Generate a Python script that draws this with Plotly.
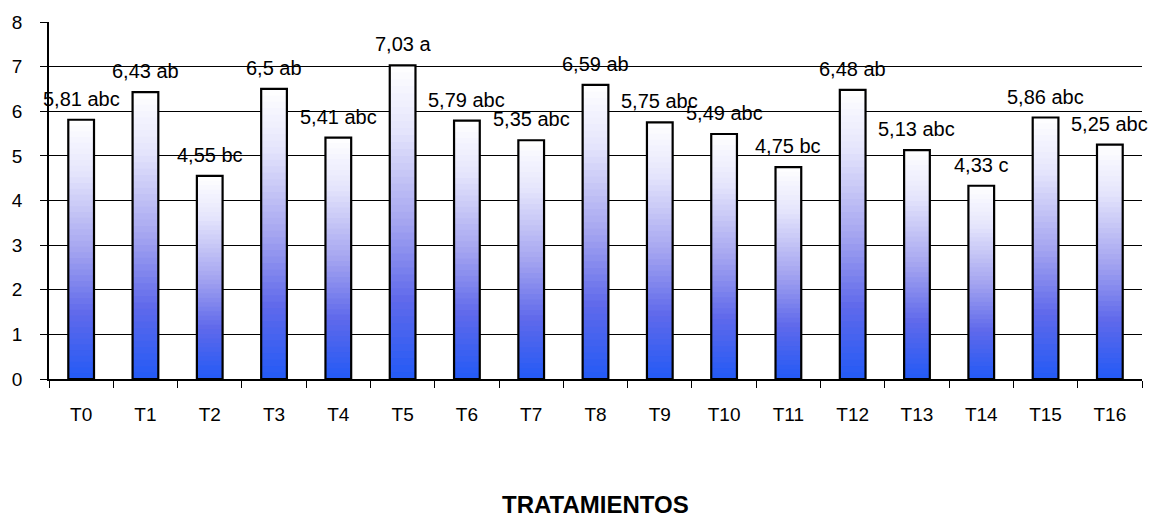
import plotly.graph_objects as go
from plotly.colors import find_intermediate_color

categories = ["T0", "T1", "T2", "T3", "T4", "T5", "T6", "T7", "T8",
              "T9", "T10", "T11", "T12", "T13", "T14", "T15", "T16"]
values = [5.81, 6.43, 4.55, 6.50, 5.41, 7.03, 5.79, 5.35, 6.59,
          5.75, 5.49, 4.75, 6.48, 5.13, 4.33, 5.86, 5.25]
groups = ["abc", "ab", "bc", "ab", "abc", "a", "abc", "abc", "ab",
          "abc", "abc", "bc", "ab", "abc", "c", "abc", "abc"]
y_ticks = [0, 1, 2, 3, 4, 5, 6, 7, 8]

FONT = "Liberation Sans, Arial, sans-serif"

# gradient stops: fraction of bar height -> colour
stops = [(0.0, (35, 90, 245)), (0.25, (95, 105, 235)), (0.5, (165, 165, 240)),
         (0.8, (230, 230, 252)), (1.0, (255, 255, 255))]


def grad_color(f):
    for (f0, c0), (f1, c1) in zip(stops[:-1], stops[1:]):
        if f <= f1:
            t = (f - f0) / (f1 - f0) if f1 > f0 else 0
            c = find_intermediate_color(c0, c1, t)
            return "rgb(%d,%d,%d)" % tuple(int(round(v)) for v in c)
    return "rgb(255,255,255)"


fig = go.Figure()
N = 45
for k in range(N):
    frac_top = 1 - k / N
    frac_mid = 1 - (k + 0.5) / N
    fig.add_trace(go.Bar(
        x=categories, y=[v * frac_top for v in values], width=0.4,
        marker=dict(color=grad_color(frac_mid), line=dict(width=0)),
        hoverinfo="skip", showlegend=False,
    ))
# outline
fig.add_trace(go.Bar(
    x=categories, y=values, width=0.4,
    marker=dict(color="rgba(0,0,0,0)", line=dict(color="black", width=2.2)),
    showlegend=False,
))

for c, v, g in zip(categories, values, groups):
    fig.add_annotation(x=c, y=v, text=f"{v:g}".replace(".", ",") + " " + g,
                       showarrow=False, yshift=21, yanchor="middle",
                       font=dict(family=FONT, size=20, color="black"))

fig.add_annotation(x=0.5, y=-0.352, xref="paper", yref="paper",
                   text="<b>TRATAMIENTOS</b>", showarrow=False, yanchor="middle",
                   font=dict(family=FONT, size=24, color="black"))

fig.update_layout(
    width=1154, height=519, autosize=False,
    barmode="overlay",
    margin=dict(l=47, r=12, t=22, b=140),
    plot_bgcolor="white", paper_bgcolor="white",
    font=dict(family=FONT, size=19, color="black"),
    xaxis=dict(type="category", range=[-0.5, 16.5], showline=True, linecolor="black",
               linewidth=1.5, ticks="outside", ticklen=7, tickcolor="black",
               tickson="boundaries", showgrid=False, ticklabelstandoff=17,
               tickfont=dict(size=19)),
    yaxis=dict(range=[0, 8], tickvals=y_ticks, showline=True, linecolor="black",
               linewidth=1.5, ticks="outside", ticklen=7, tickcolor="black",
               showgrid=True, gridcolor="black", gridwidth=1.3, zeroline=False,
               ticklabelstandoff=14, tickfont=dict(size=19)),
)

fig.write_html("out.html")
